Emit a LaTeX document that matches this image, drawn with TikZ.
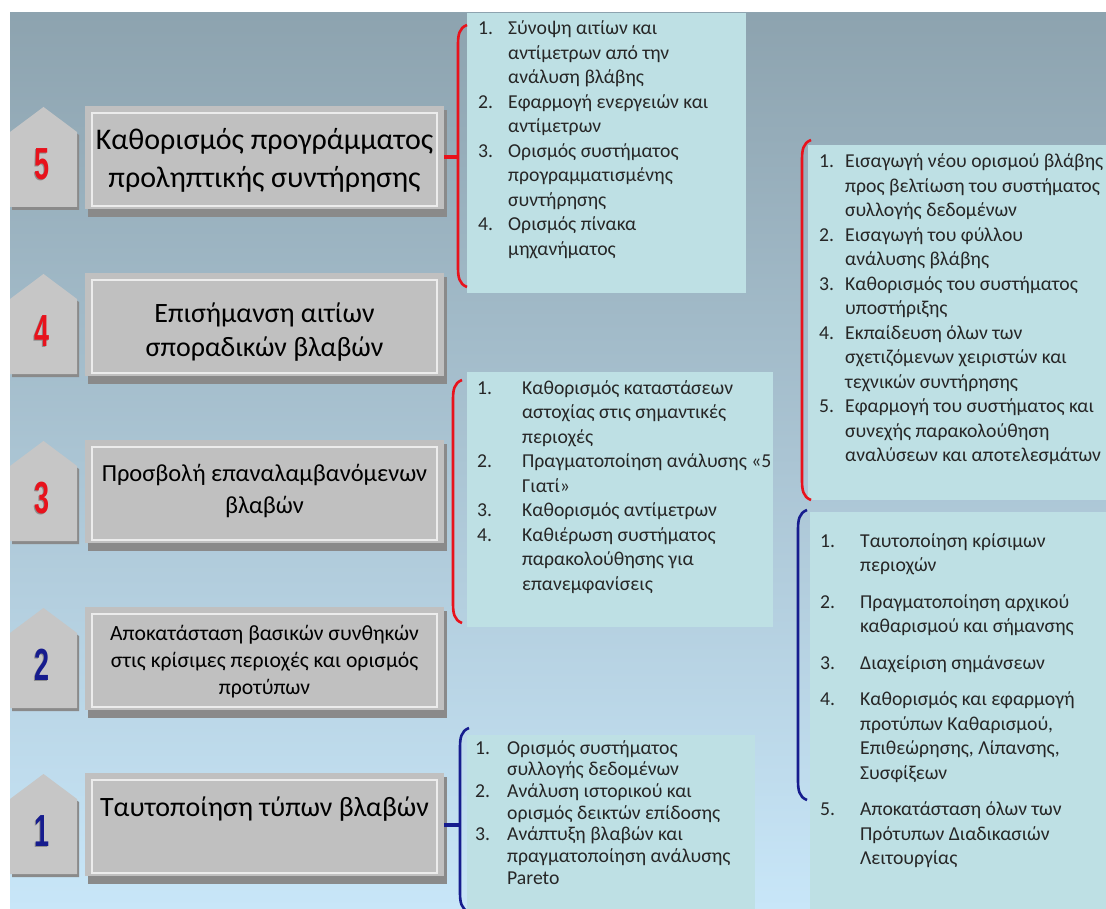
\documentclass[tikz,border=0pt]{standalone}
\usepackage{fontspec}
\setmainfont{Carlito}
\newfontfamily\numfont{Liberation Sans}
\usetikzlibrary{calc}
\definecolor{bgtop}{HTML}{8DA3AF}
\definecolor{bgbot}{HTML}{C8E6F8}
\definecolor{boxgray}{HTML}{C0C0C0}
\definecolor{boxshade}{HTML}{8A8A8A}
\definecolor{badgegray}{HTML}{C6C6C6}
\definecolor{listbg}{HTML}{BEE0E4}
\definecolor{bred}{HTML}{E8121C}
\definecolor{bnavy}{HTML}{161C8E}
\definecolor{txtgray}{HTML}{262626}
\newcommand{\mybrack}[4]{%
  \draw[#1] (#2+9,#3) .. controls (#2+1,#3+3) and (#2,#3+10) .. (#2,#3+20)
     -- (#2,#4-20) .. controls (#2,#4-10) and (#2+1,#4-3) .. (#2+9,#4);}
\newcommand{\stage}[2]{% name, reference y
  \fill[boxshade] (12,#2+4) -- (45.5,#2-19) -- (79,#2+4) -- (79,#2+79) -- (12,#2+79) -- cycle;
  \fill[badgegray] (10,#2+1) -- (43.5,#2-24) -- (77,#2+1) -- (77,#2+76) -- (10,#2+76) -- cycle;
  \fill[boxshade] (88,#2-21) rectangle (447,#2+86);
  \node[mainbox] (#1) at (85,#2-25) {};
  \draw[white, line width=1.6pt, opacity=0.7] (92,#2-18) rectangle (437,#2+75);
}
\tikzset{
  mainbox/.style={fill=boxgray, minimum width=359pt, minimum height=103pt,
    anchor=north west, inner sep=0pt, outer sep=0pt},
  maintext/.style={align=center, inner sep=0pt, text=black},
  listbox/.style={fill=listbg, anchor=north west, inner sep=0pt, outer sep=0pt},
  listtxt/.style={font=\fontsize{19.7}{24.5}\selectfont, inner sep=0pt, anchor=base west, text=txtgray},
  digit/.style={font=\numfont\bfseries\fontsize{45}{45}\selectfont, inner sep=0pt},
  redline/.style={draw=bred, line width=2.6pt},
  navyline/.style={draw=bnavy, line width=2.6pt},
}
\begin{document}
\begin{tikzpicture}[x=1pt,y=-1pt]
\useasboundingbox (0,0) rectangle (1106,909);
\fill[white] (0,0) rectangle (1106,909);
\shade[top color=bgtop, bottom color=bgbot] (10,13) rectangle (1106,909);

% stages
\stage{b5}{131}
\stage{b4}{298}
\stage{b3}{465}
\stage{b2}{632}
\stage{b1}{798}

% digits
\foreach \n/\yy/\c in {5/164/bred,4/331/bred,3/498/bred,2/665/bnavy,1/831/bnavy}{
  \node[digit, text=black!50, opacity=0.8] at (41,\yy+1) {\scalebox{0.6}[1]{\n}};
  \node[digit, text=\c] (d\n) at (42,\yy) {\scalebox{0.6}[1]{\n}};
}

% main texts
\node[maintext, font=\fontsize{30}{38}\selectfont] (t5) at ($(b5.center)+(0,3)$)
  {Καθορισμός προγράμματος\\προληπτικής συντήρησης};
\node[maintext, font=\fontsize{28}{34}\selectfont] (t4) at ($(b4.center)+(0,7.5)$)
  {Επισήμανση αιτίων\\σποραδικών βλαβών};
\node[maintext, font=\fontsize{24.5}{32}\selectfont] (t3) at ($(b3.center)+(0,-0.5)$)
  {Προσβολή επαναλαμβανόμενων\\βλαβών};
\node[maintext, font=\fontsize{21.7}{27}\selectfont] (t2) at ($(b2.center)+(0,3.5)$)
  {Αποκατάσταση βασικών συνθηκών\\στις κρίσιμες περιοχές και ορισμός\\προτύπων};
\node[maintext, font=\fontsize{28}{34}\selectfont] (t1) at ($(b1.center)+(0,-15.5)$)
  {Ταυτοποίηση τύπων βλαβών};

% list boxes
\node[listbox, minimum width=279pt, minimum height=280pt] (LA) at (467,13) {};
\node[listbox, minimum width=298pt, minimum height=355pt] (LB) at (808,145) {};
\node[listbox, minimum width=306pt, minimum height=255pt] (LC) at (467,372) {};
\node[listbox, minimum width=296pt, minimum height=397pt] (LD) at (810,512) {};
\node[listbox, minimum width=288pt, minimum height=174pt] (LE) at (467,735) {};

% list texts
\node[listtxt] (xA) at (478,35) {\begin{tabular}[t]{@{}p{30pt}@{}l@{}}
1. & Σύνοψη αιτίων και\\
   & αντίμετρων από την\\
   & ανάλυση βλάβης\\
2. & Εφαρμογή ενεργειών και\\
   & αντίμετρων\\
3. & Ορισμός συστήματος\\
   & προγραμματισμένης\\
   & συντήρησης\\
4. & Ορισμός πίνακα\\
   & μηχανήματος
\end{tabular}};
\node[listtxt] (xB) at (819,168) {\begin{tabular}[t]{@{}p{26pt}@{}l@{}}
1. & Εισαγωγή νέου ορισμού βλάβης\\
   & προς βελτίωση του συστήματος\\
   & συλλογής δεδομένων\\
2. & Εισαγωγή του φύλλου\\
   & ανάλυσης βλάβης\\
3. & Καθορισμός του συστήματος\\
   & υποστήριξης\\
4. & Εκπαίδευση όλων των\\
   & σχετιζόμενων χειριστών και\\
   & τεχνικών συντήρησης\\
5. & Εφαρμογή του συστήματος και\\
   & συνεχής παρακολούθηση\\
   & αναλύσεων και αποτελεσμάτων
\end{tabular}};
\node[listtxt] (xC) at (477,394) {\begin{tabular}[t]{@{}p{45pt}@{}l@{}}
1. & Καθορισμός καταστάσεων\\
   & αστοχίας στις σημαντικές\\
   & περιοχές\\
2. & Πραγματοποίηση ανάλυσης «5\\
   & Γιατί»\\
3. & Καθορισμός αντίμετρων\\
4. & Καθιέρωση συστήματος\\
   & παρακολούθησης για\\
   & επανεμφανίσεις
\end{tabular}};
\node[listtxt] (xD) at (820,547) {\begin{tabular}[t]{@{}p{40pt}@{}l@{}}
1. & Ταυτοποίηση κρίσιμων\\
   & περιοχών\\[12pt]
2. & Πραγματοποίηση αρχικού\\
   & καθαρισμού και σήμανσης\\[12pt]
3. & Διαχείριση σημάνσεων\\[12pt]
4. & Καθορισμός και εφαρμογή\\
   & προτύπων Καθαρισμού,\\
   & Επιθεώρησης, Λίπανσης,\\
   & Συσφίξεων\\[12pt]
5. & Αποκατάσταση όλων των\\
   & Πρότυπων Διαδικασιών\\
   & Λειτουργίας
\end{tabular}};
\node[listtxt, font=\fontsize{19.7}{21.7}\selectfont] (xE) at (475,754) {\begin{tabular}[t]{@{}p{32pt}@{}l@{}}
1. & Ορισμός συστήματος\\
   & συλλογής δεδομένων\\
2. & Ανάλυση ιστορικού και\\
   & ορισμός δεικτών επίδοσης\\
3. & Ανάπτυξη βλαβών και\\
   & πραγματοποίηση ανάλυσης\\
   & Pareto
\end{tabular}};

% brackets
\coordinate (brA) at (458,25);
\coordinate (brB) at (802,140);
\coordinate (brC) at (453,380);
\coordinate (brD) at (798,510);
\coordinate (brE) at (460,728);
\mybrack{redline}{458}{25}{287}
\mybrack{redline}{802}{140}{500}
\mybrack{redline}{453}{380}{623}
\mybrack{navyline}{798}{510}{800}
\mybrack{navyline}{460}{728}{912}

% connectors
\draw[bred, line width=4pt] (b5.east) -- (b5.east -| brA);
\draw[bred, line width=2.4pt] ($(b4.east)+(0,-6)$) -- ($(b4.east)+(0,-6)$ -| brB);
\draw[bred, line width=4pt] ($(b3.east)+(0,8)$) -- ($(b3.east)+(0,8)$ -| brC);
\draw[bnavy, line width=5pt] ($(b2.east)+(0,1.5)$) -- ($(b2.east)+(0,1.5)$ -| brD);
\draw[bnavy, line width=4pt] (b1.east) -- (b1.east -| brE);
\end{tikzpicture}
\end{document}
